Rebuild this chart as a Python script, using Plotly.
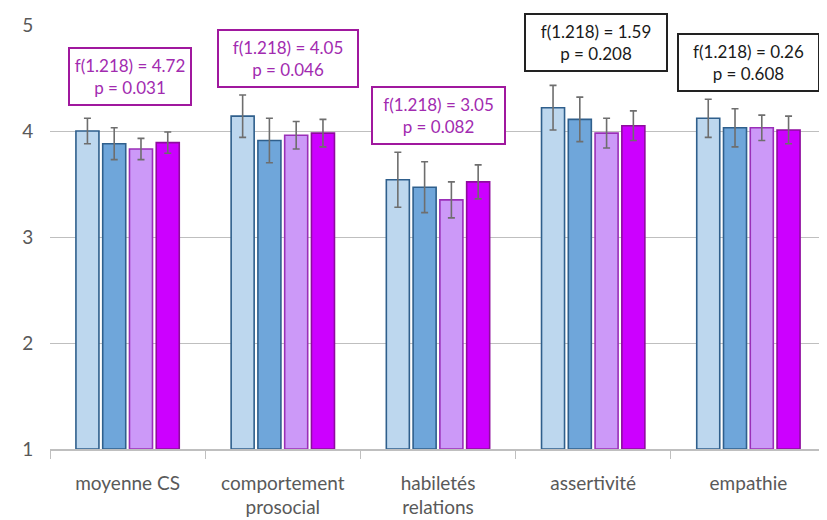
import plotly.graph_objects as go

categories = ["moyenne CS", "comportement<br>prosocial", "habiletés<br>relations", "assertivité", "empathie"]

group_a = [4.00, 4.14, 3.54, 4.22, 4.12]
group_b = [3.88, 3.91, 3.47, 4.11, 4.03]
group_c = [3.83, 3.96, 3.35, 3.98, 4.03]
group_d = [3.89, 3.98, 3.52, 4.05, 4.01]

err_a = [0.12, 0.20, 0.26, 0.21, 0.18]
err_b = [0.15, 0.21, 0.24, 0.21, 0.18]
err_c = [0.10, 0.13, 0.17, 0.14, 0.12]
err_d = [0.10, 0.13, 0.16, 0.14, 0.13]

f_values = ["4.72", "4.05", "3.05", "1.59", "0.26"]
p_values = ["0.031", "0.046", "0.082", "0.208", "0.608"]
significant = [True, True, True, False, False]

series = [
    (group_a, err_a, "#BDD7EE", "#2F5F8C"),
    (group_b, err_b, "#6FA6DA", "#2F5F8C"),
    (group_c, err_c, "#CC99F8", "#9A2FB8"),
    (group_d, err_d, "#CC00FF", "#8E0C9E"),
]

fig = go.Figure()
for values, errs, fill, edge in series:
    fig.add_trace(go.Bar(
        x=categories,
        y=[v - 1 for v in values],
        base=1,
        marker=dict(color=fill, line=dict(color=edge, width=1.6)),
        error_y=dict(type="data", array=errs, color="#6E6E6E", thickness=1.6, width=3.5),
        showlegend=False,
    ))

# box centre (y in data units), x shift in px, box width in px
box_y = [4.514, 4.684, 4.142, 4.835, 4.646]
box_dx = [2, 5, 0, 3, 0]
box_w = [116, 134, 127, 136, 135]

for i, cat in enumerate(categories):
    col = "#A22BB0" if significant[i] else "#1A1A1A"
    edge = "#A0189E" if significant[i] else "#222222"
    fig.add_annotation(
        x=cat, y=box_y[i], xref="x", yref="y",
        xshift=box_dx[i],
        text=f"f(1.218) = {f_values[i]}<br>p = {p_values[i]}",
        showarrow=False,
        font=dict(family="Lato", size=17, color=col),
        bordercolor=edge, borderwidth=2, borderpad=2,
        bgcolor="white", width=box_w[i], height=51,
    )

# the page body has an 8px margin, so the figure is sized to fit inside it
fig.update_layout(
    width=819, height=512,
    margin=dict(l=42, r=1, t=17, b=71),
    barmode="group", bargap=0.31, bargroupgap=0.14,
    plot_bgcolor="white", paper_bgcolor="white",
    font=dict(family="Lato", size=19, color="#595959"),
)
fig.update_xaxes(
    automargin=False,
    showline=True, linecolor="#BFBFBF", linewidth=1.5,
    ticks="outside", tickson="boundaries", tickcolor="#BFBFBF", ticklen=8,
    ticklabelstandoff=16,
)
# invisible outside ticks set the gap between y labels and the plot
fig.update_yaxes(
    automargin=False,
    range=[1, 5], dtick=1, showgrid=True, gridcolor="#BFBFBF", gridwidth=1.2,
    zeroline=False, showline=False,
    ticks="outside", ticklen=12, tickcolor="rgba(0,0,0,0)",
)

fig.write_html("out.html")
